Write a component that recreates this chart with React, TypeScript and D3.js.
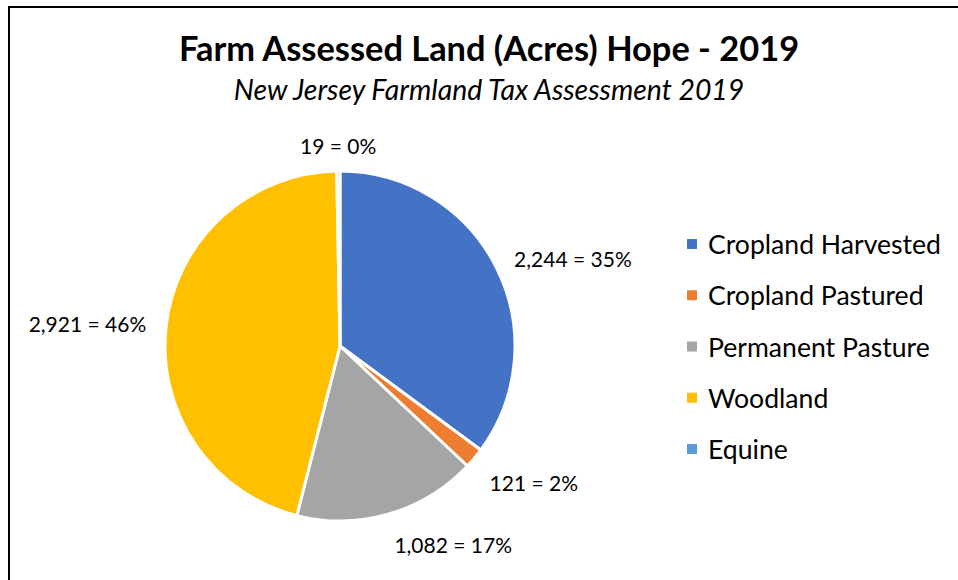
import React from "react";
import * as d3 from "d3";

const categories = ["Cropland Harvested", "Cropland Pastured", "Permanent Pasture", "Woodland", "Equine"];
const values = [2244, 121, 1082, 2921, 19];
const colors = ["#4472C4", "#ED7D31", "#A5A5A5", "#FFC000", "#5B9BD5"];
const titleText = "Farm Assessed Land (Acres) Hope - 2019";
const subtitleText = "New Jersey Farmland Tax Assessment 2019";

const W = 958;
const H = 580;
const cx = 340;
const cy = 346;
const R = 175;
const FONT = "Lato, 'Open Sans', sans-serif";

export default function App() {
  const total = d3.sum(values);
  const pie = d3.pie<number>().sort(null).value((d) => d)(values);
  const arc = d3.arc<d3.PieArcDatum<number>>().innerRadius(0).outerRadius(R);
  const fmt = d3.format(",");
  const labelFont = 21;
  const labelH = 22;

  const legendY = d3.scalePoint<string>().domain(categories).range([244, 449]);

  return (
    <svg width={W} height={H} style={{ position: "absolute", left: 0, top: 0, background: "#fff" }}>
      <rect x={9} y={7} width={W + 20} height={H + 20} fill="#fff" stroke="#000" strokeWidth={2} />
      <text x={489} y={61} textAnchor="middle" fontFamily={FONT} fontWeight="bold" fontSize={34.4} fill="#000">
        {titleText}
      </text>
      <text x={489} y={100} textAnchor="middle" fontFamily={FONT} fontStyle="italic" fontSize={28.4} fill="#000">
        {subtitleText}
      </text>
      <g transform={`translate(${cx},${cy})`}>
        {pie.map((p, i) => (
          <path key={i} d={arc(p) || ""} fill={colors[i]} stroke="#fff" strokeWidth={3} strokeLinejoin="round" />
        ))}
        {pie.map((p, i) => {
          const mid = (p.startAngle + p.endAngle) / 2;
          const s = Math.sin(mid);
          const c = Math.cos(mid);
          const rr = R + 20;
          const ax = rr * s;
          const ay = -rr * c;
          const pct = Math.round((values[i] / total) * 100);
          const txt = `${fmt(values[i])} = ${pct}%`;
          const anchor = s > 0.2 ? "start" : s < -0.2 ? "end" : "middle";
          const dy = c < -0.3 ? labelH / 2 : c > 0.9 ? -labelH / 2 + 5 : 0;
          return (
            <text
              key={"l" + i}
              x={ax}
              y={ay + dy}
              textAnchor={anchor}
              dominantBaseline="central"
              fontFamily={FONT}
              fontSize={labelFont}
              fill="#000"
            >
              {txt}
            </text>
          );
        })}
      </g>
      <g>
        {categories.map((cat, i) => (
          <g key={cat} transform={`translate(687,${legendY(cat)})`}>
            <rect x={0} y={-5} width={10} height={10} fill={colors[i]} />
            <text x={21} y={0} dominantBaseline="central" fontFamily={FONT} fontSize={26.6} fill="#000">
              {cat}
            </text>
          </g>
        ))}
      </g>
    </svg>
  );
}
